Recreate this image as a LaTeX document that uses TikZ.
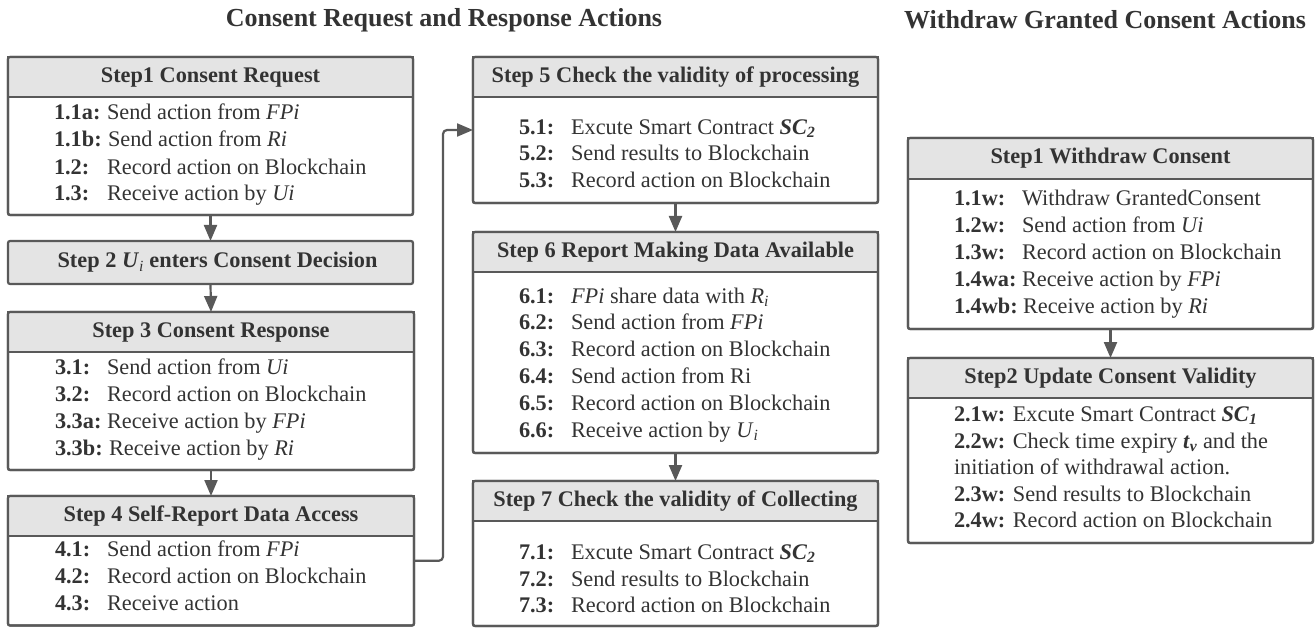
\documentclass[tikz,border=0pt]{standalone}
\usepackage{fontspec}
\setmainfont{Liberation Serif}
\usetikzlibrary{arrows.meta}
\definecolor{txt}{HTML}{333333}
\definecolor{ln}{HTML}{595959}
\definecolor{hdr}{HTML}{E4E4E4}
\newcommand\itm[6]{\node[itm] (#1l) at (#2,#3) {\textbf{#4}}; \node[itm] (#1t) at (#5,#3) {#6};}
\begin{document}
\begin{tikzpicture}[x=1pt,y=-1pt,
  every node/.style={text=txt, font=\fontsize{22.3}{27}\selectfont, inner sep=0pt, outer sep=0pt},
  itm/.style={anchor=mid west, yshift=-6pt},
  hdrbox/.style={fill=hdr, draw=ln, line width=2.2pt, text=txt, font=\fontsize{22.3}{27}\selectfont\bfseries},
  outer/.style={draw=ln, line width=2.2pt, rounded corners=2pt},
  conn/.style={draw=ln, line width=2.2pt, -{Triangle[length=16pt,width=13pt]}},
  ttl/.style={font=\fontsize{26}{30}\selectfont\bfseries}]
\useasboundingbox (0,0) rectangle (1316,628);
\node[ttl] (t1) at (444,20) {Consent Request and Response Actions};
\node[ttl] (t2) at (1105,20) {Withdraw Granted Consent Actions};
% boxes
\node[outer, minimum width=405, minimum height=158, anchor=north west] (s1) at (8,57) {};
\node[hdrbox, minimum width=405, minimum height=40, anchor=north west] (s1h) at (8,57) {Step1 Consent Request};
\node[outer, minimum width=405, minimum height=158, anchor=north west] at (8,57) {};
\node[hdrbox, rounded corners=2pt, minimum width=405, minimum height=43, anchor=north west] (s2) at (8,241) {};
\node (s2t) at ([xshift=7pt]s2.center) {\bfseries Step 2 \textit{U}\textsubscript{\textit{\mdseries i}} enters Consent Decision};
\node[outer, minimum width=406, minimum height=158, anchor=north west] (s3) at (8,312) {};
\node[hdrbox, minimum width=406, minimum height=40, anchor=north west] (s3h) at (8,312) {Step 3 Consent Response};
\node[outer, minimum width=406, minimum height=158, anchor=north west] at (8,312) {};
\node[outer, minimum width=406, minimum height=129.5, anchor=north west] (s4) at (8,496) {};
\node[hdrbox, minimum width=406, minimum height=40, anchor=north west] (s4h) at (8,496) {Step 4 Self-Report Data Access};
\node[outer, minimum width=406, minimum height=129.5, anchor=north west] at (8,496) {};
\node[outer, minimum width=405, minimum height=146, anchor=north west] (s5) at (473,57) {};
\node[hdrbox, minimum width=405, minimum height=40, anchor=north west] (s5h) at (473,57) {Step 5 Check the validity of processing};
\node[outer, minimum width=405, minimum height=146, anchor=north west] at (473,57) {};
\node[outer, minimum width=405, minimum height=221, anchor=north west] (s6) at (473,232) {};
\node[hdrbox, minimum width=405, minimum height=40, anchor=north west] (s6h) at (473,232) {Step 6 Report Making Data Available};
\node[outer, minimum width=405, minimum height=221, anchor=north west] at (473,232) {};
\node[outer, minimum width=405, minimum height=145, anchor=north west] (s7) at (473,481) {};
\node[hdrbox, minimum width=405, minimum height=40, anchor=north west] (s7h) at (473,481) {Step 7 Check the validity of Collecting};
\node[outer, minimum width=405, minimum height=145, anchor=north west] at (473,481) {};
\node[outer, minimum width=405, minimum height=191, anchor=north west] (w1) at (908,138) {};
\node[hdrbox, minimum width=405, minimum height=41, anchor=north west] (w1h) at (908,138) {Step1 Withdraw Consent};
\node[outer, minimum width=405, minimum height=191, anchor=north west] at (908,138) {};
\node[outer, minimum width=405, minimum height=185, anchor=north west] (w2) at (908,358) {};
\node[hdrbox, minimum width=405, minimum height=40, anchor=north west] (w2h) at (908,358) {Step2 Update Consent Validity};
\node[outer, minimum width=405, minimum height=185, anchor=north west] at (908,358) {};
% items
\itm{a1}{54}{111}{1.1a:}{107}{Send action from \textit{FPi}}
\itm{a2}{54}{138}{1.1b:}{108}{Send action from \textit{Ri}}
\itm{a3}{54}{166}{1.2:}{107}{Record action on Blockchain}
\itm{a4}{54}{192}{1.3:}{107}{Receive action by \textit{Ui}}
\itm{c1}{55}{366}{3.1:}{107}{Send action from \textit{Ui}}
\itm{c2}{55}{393}{3.2:}{107}{Record action on Blockchain}
\itm{c3}{55}{420}{3.3a:}{107}{Receive action by \textit{FPi}}
\itm{c4}{55}{447}{3.3b:}{109}{Receive action by \textit{Ri}}
\itm{d1}{55}{548}{4.1:}{107}{Send action from \textit{FPi}}
\itm{d2}{55}{575}{4.2:}{107}{Record action on Blockchain}
\itm{d3}{55}{602}{4.3:}{107}{Receive action}
\itm{e1}{519}{126}{5.1:}{571}{Excute Smart Contract \textbf{\textit{SC}\textsubscript{\textit{2}}}}
\itm{e2}{519}{152}{5.2:}{571}{Send results to Blockchain}
\itm{e3}{519}{179}{5.3:}{571}{Record action on Blockchain}
\itm{f1}{519}{295}{6.1:}{571}{\textit{FPi} share data with \textit{R}\textsubscript{\textit{i}}}
\itm{f2}{519}{321}{6.2:}{571}{Send action from \textit{FPi}}
\itm{f3}{519}{348}{6.3:}{571}{Record action on Blockchain}
\itm{f4}{519}{375}{6.4:}{571}{Send action from Ri}
\itm{f5}{519}{402}{6.5:}{571}{Record action on Blockchain}
\itm{f6}{519}{429}{6.6:}{571}{Receive action by \textit{U}\textsubscript{\textit{i}}}
\itm{g1}{519}{551}{7.1:}{571}{Excute Smart Contract \textbf{\textit{SC}\textsubscript{\textit{2}}}}
\itm{g2}{519}{578}{7.2:}{571}{Send results to Blockchain}
\itm{g3}{519}{604}{7.3:}{571}{Record action on Blockchain}
\itm{h1}{954}{197}{1.1w:}{1022}{Withdraw GrantedConsent}
\itm{h2}{954}{224}{1.2w:}{1022}{Send action from \textit{Ui}}
\itm{h3}{954}{251}{1.3w:}{1022}{Record action on Blockchain}
\itm{h4}{954}{278}{1.4wa:}{1022}{Receive action by \textit{FPi}}
\itm{h5}{954}{305}{1.4wb:}{1023}{Receive action by \textit{Ri}}
\node[itm] (k1) at (954,413) {\textbf{2.1w:} Excute Smart Contract \textbf{\textit{SC}\textsubscript{\textit{1}}}};
\node[itm] (k2) at (954,440) {\textbf{2.2w:} Check time expiry \textbf{\textit{t}\textsubscript{\textit{v}}} and the};
\node[itm] (k3) at (954,466) {initiation of withdrawal action.};
\node[itm] (k4) at (954,493) {\textbf{2.3w:} Send results to Blockchain};
\node[itm] (k5) at (954,519) {\textbf{2.4w:} Record action on Blockchain};
% connectors
\draw[conn] (s1.south) -- (s2.north);
\draw[conn] (s2.south) -- (s3.north);
\draw[conn] (s3.south) -- (s4.north);
\draw[conn] (s5.south) -- (s6.north);
\draw[conn] (s6.south) -- (s7.north);
\draw[conn] (w1.south) -- (w2.north);
\draw[conn, rounded corners=4pt] (s4.east) -- ++(29,0) |- (s5.west);
\end{tikzpicture}
\end{document}
